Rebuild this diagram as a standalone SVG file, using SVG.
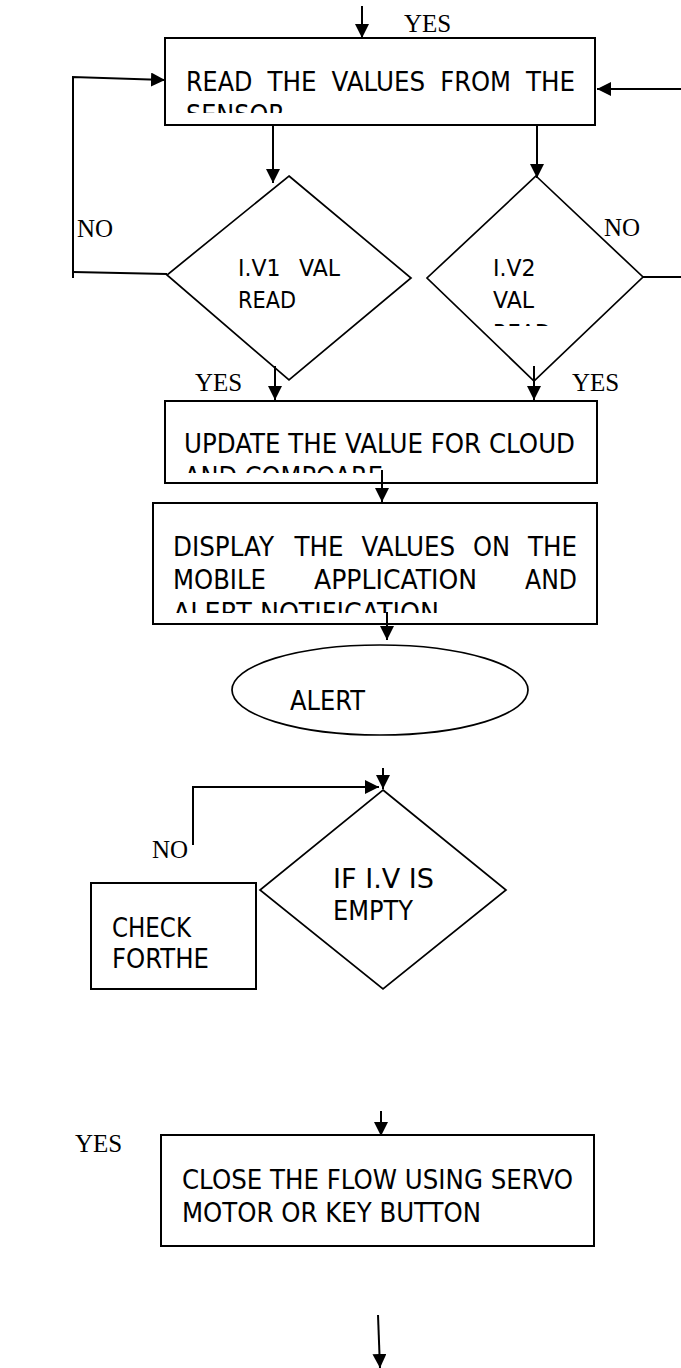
<svg xmlns="http://www.w3.org/2000/svg" width="681" height="1368" viewBox="0 0 681 1368">
<style>
.box{fill:#fff;stroke:#000;stroke-width:2}
.dia{fill:#fff;stroke:#000;stroke-width:1.7}
.t{font-family:"DejaVu Sans","Liberation Sans",sans-serif;font-size:27px;fill:#000}
.ts{font-family:"DejaVu Sans","Liberation Sans",sans-serif;font-size:23px;fill:#000}
.lbl{font-family:"Liberation Serif","Times New Roman",serif;font-size:25px;fill:#000}
.c{fill:none;stroke:#000;stroke-width:2}
</style>
<defs>
<marker id="ah" markerWidth="14" markerHeight="14" refX="14" refY="7" orient="auto" markerUnits="userSpaceOnUse"><path d="M0,0 L14,7 L0,14 z" fill="#000"/></marker>
<clipPath id="cb1"><rect x="165" y="38" width="430" height="75"/></clipPath>
<clipPath id="cb2"><rect x="165" y="401" width="432" height="72"/></clipPath>
<clipPath id="cb3"><rect x="153" y="503" width="444" height="110"/></clipPath>
<clipPath id="cd2"><rect x="427" y="176" width="216" height="150"/></clipPath>
</defs>
<rect width="681" height="1368" fill="#fff"/>

<g id="box1">
<rect class="box" x="165" y="38" width="430" height="87"/>
<g clip-path="url(#cb1)">
<text class="t" x="186" y="91" textLength="66.4" lengthAdjust="spacingAndGlyphs">READ</text>
<text class="t" x="267.4" y="91" textLength="49.1" lengthAdjust="spacingAndGlyphs">THE</text>
<text class="t" x="331.5" y="91" textLength="93.7" lengthAdjust="spacingAndGlyphs">VALUES</text>
<text class="t" x="440.2" y="91" textLength="70.8" lengthAdjust="spacingAndGlyphs">FROM</text>
<text class="t" x="526" y="91" textLength="49.1" lengthAdjust="spacingAndGlyphs">THE</text>
<text class="t" x="186" y="124" textLength="99" lengthAdjust="spacingAndGlyphs">SENSOR</text>
</g>
</g>

<g id="dia1">
<polygon class="dia" points="289,176 411,278 289,380 167,275"/>
<text class="ts" x="238" y="276" textLength="42.5" lengthAdjust="spacingAndGlyphs">I.V1</text>
<text class="ts" x="299" y="276" textLength="41" lengthAdjust="spacingAndGlyphs">VAL</text>
<text class="ts" x="238" y="308" textLength="58" lengthAdjust="spacingAndGlyphs">READ</text>
</g>

<g id="dia2">
<polygon class="dia" points="536,176 643,277 534,381 427,278"/>
<g clip-path="url(#cd2)">
<text class="ts" x="493" y="276" textLength="42.5" lengthAdjust="spacingAndGlyphs">I.V2</text>
<text class="ts" x="493" y="308" textLength="41" lengthAdjust="spacingAndGlyphs">VAL</text>
<text class="ts" x="493" y="341" textLength="58" lengthAdjust="spacingAndGlyphs">READ</text>
</g>
</g>

<g id="box2">
<rect class="box" x="165" y="401" width="432" height="82"/>
<g clip-path="url(#cb2)">
<text class="t" x="184" y="453" textLength="391" lengthAdjust="spacingAndGlyphs">UPDATE THE VALUE FOR CLOUD</text>
<text class="t" x="184" y="486" textLength="199" lengthAdjust="spacingAndGlyphs">AND COMPOARE</text>
</g>
</g>

<g id="box3">
<rect class="box" x="153" y="503" width="444" height="121"/>
<g clip-path="url(#cb3)">
<text class="t" x="173" y="556" textLength="101" lengthAdjust="spacingAndGlyphs">DISPLAY</text>
<text class="t" x="294.4" y="556" textLength="49.1" lengthAdjust="spacingAndGlyphs">THE</text>
<text class="t" x="361.4" y="556" textLength="93.7" lengthAdjust="spacingAndGlyphs">VALUES</text>
<text class="t" x="473" y="556" textLength="37.1" lengthAdjust="spacingAndGlyphs">ON</text>
<text class="t" x="528" y="556" textLength="49.1" lengthAdjust="spacingAndGlyphs">THE</text>
<text class="t" x="173" y="589" textLength="93" lengthAdjust="spacingAndGlyphs">MOBILE</text>
<text class="t" x="314" y="589" textLength="163" lengthAdjust="spacingAndGlyphs">APPLICATION</text>
<text class="t" x="525" y="589" textLength="52" lengthAdjust="spacingAndGlyphs">AND</text>
<text class="t" x="173" y="622" textLength="266" lengthAdjust="spacingAndGlyphs">ALERT NOTIFICATION</text>
</g>
</g>

<g id="alert">
<ellipse class="dia" cx="380" cy="690" rx="148" ry="45"/>
<text class="t" x="290" y="710" textLength="75" lengthAdjust="spacingAndGlyphs">ALERT</text>
</g>

<g id="dia3">
<polygon class="dia" points="383,790 506,890 383,989 260,890"/>
<text class="t" x="333" y="888" textLength="101" lengthAdjust="spacingAndGlyphs">IF I.V IS</text>
<text class="t" x="333" y="920" textLength="80" lengthAdjust="spacingAndGlyphs">EMPTY</text>
</g>

<g id="check">
<rect class="box" x="91" y="883" width="165" height="106"/>
<text class="t" x="112" y="937" font-size="26" textLength="79" lengthAdjust="spacingAndGlyphs">CHECK</text>
<text class="t" x="112" y="968" font-size="26" textLength="97" lengthAdjust="spacingAndGlyphs">FORTHE</text>
</g>

<g id="box4">
<rect class="box" x="161" y="1135" width="433" height="111"/>
<text class="t" x="182" y="1189" textLength="391" lengthAdjust="spacingAndGlyphs">CLOSE THE FLOW USING SERVO</text>
<text class="t" x="182" y="1222" textLength="299" lengthAdjust="spacingAndGlyphs">MOTOR OR KEY BUTTON</text>
</g>

<g id="connectors">
<path class="c" d="M362,6 L362,38" marker-end="url(#ah)"/>
<path class="c" d="M167,274 L73,272"/>
<path class="c" d="M73,278 L73,77 L165,80" marker-end="url(#ah)"/>
<path class="c" d="M643,277 L681,277"/>
<path class="c" d="M681,89 L597,89" marker-end="url(#ah)"/>
<path class="c" d="M273,125 L273,183" marker-end="url(#ah)"/>
<path class="c" d="M537,125 L537,178" marker-end="url(#ah)"/>
<path class="c" d="M275,366 L275,400" marker-end="url(#ah)"/>
<path class="c" d="M534,366 L534,400" marker-end="url(#ah)"/>
<path class="c" d="M382,470 L382,502" marker-end="url(#ah)"/>
<path class="c" d="M387,612 L387,640" marker-end="url(#ah)"/>
<path class="c" d="M383,768 L383,789" marker-end="url(#ah)"/>
<path class="c" d="M193,845 L193,787 L379,787" marker-end="url(#ah)"/>
<path class="c" d="M381,1111 L381,1136" marker-end="url(#ah)"/>
<path class="c" d="M378,1315 L380,1368" marker-end="url(#ah)"/>
</g>

<g id="labels">
<text class="lbl" x="404" y="32">YES</text>
<text class="lbl" x="77" y="237">NO</text>
<text class="lbl" x="604" y="236">NO</text>
<text class="lbl" x="195" y="391">YES</text>
<text class="lbl" x="572" y="391">YES</text>
<text class="lbl" x="152" y="858">NO</text>
<text class="lbl" x="75" y="1152">YES</text>
</g>
</svg>
